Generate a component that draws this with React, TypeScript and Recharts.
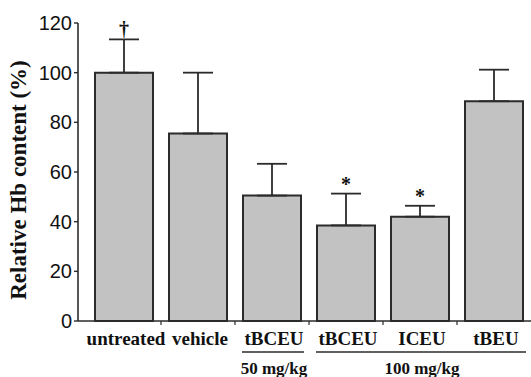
import React from 'react';
import { ComposedChart, Bar, Line, XAxis, YAxis, ErrorBar, LabelList } from 'recharts';

const categories = ['untreated', 'vehicle', 'tBCEU', 'tBCEU', 'ICEU', 'tBEU'];
const values = [100, 75.5, 50.5, 38.5, 42, 88.5];
const errors = [13.4, 24.5, 12.8, 12.8, 4.4, 12.7];
const marks = ['†', '', '', '*', '*', ''];
const yTicks = [0, 20, 40, 60, 80, 100, 120];

const groupLabels = ['50 mg/kg', '100 mg/kg'];
const groupStart = [2, 3];
const groupEnd = [2, 5];

const yTitle = 'Relative Hb content (%)';

const data = categories.map((name, i) => ({
    name,
    value: values[i],
    err: [0, errors[i]],
    top: values[i] + errors[i],
    mark: marks[i],
}));

const STEP = 74;
const ink = '#2b2b2b';
const serif = '"Liberation Serif", "Times New Roman", serif';

const CategoryTick = (props: any) => {
    const { x, y, payload, index } = props;
    const gi = groupStart.indexOf(index);
    return (
        <g>
            {index > 0 && (
                <line x1={x - STEP / 2} x2={x - STEP / 2} y1={y} y2={y + 4} stroke={ink} strokeWidth={1.2} />
            )}
            <text x={x + 2} y={y + 24} textAnchor="middle" fontFamily={serif} fontWeight="bold" fontSize={19} fill="#111">
                {payload.value}
            </text>
            {gi >= 0 && (
                <g>
                    <line
                        x1={x - 30}
                        x2={x + (groupEnd[gi] - groupStart[gi]) * STEP + 32}
                        y1={y + 31}
                        y2={y + 31}
                        stroke={ink}
                        strokeWidth={1.3}
                    />
                    <text
                        x={x + ((groupEnd[gi] - groupStart[gi]) * STEP) / 2 + 2}
                        y={y + 53}
                        textAnchor="middle"
                        fontFamily={serif}
                        fontWeight="bold"
                        fontSize={17}
                        fill="#111"
                    >
                        {groupLabels[gi]}
                    </text>
                </g>
            )}
        </g>
    );
};

const YTitle = (props: any) => {
    const { viewBox } = props;
    const cy = viewBox.y + viewBox.height / 2 + 8;
    return (
        <text
            transform={`translate(26, ${cy}) rotate(-90)`}
            textAnchor="middle"
            fontFamily={serif}
            fontWeight="bold"
            fontSize={23}
            fill="#111"
        >
            {yTitle}
        </text>
    );
};

export default function App() {
    return (
        <div style={{ position: 'absolute', left: 0, top: 0, width: 531, height: 377, background: '#fff' }}>
            <ComposedChart width={531} height={377} data={data} margin={{ top: 23, right: 0, left: 0, bottom: 0 }}>
                <XAxis
                    dataKey="name"
                    height={56}
                    padding={{ left: 9, right: 0 }}
                    tickLine={false}
                    tickSize={0}
                    tickMargin={0}
                    axisLine={{ stroke: ink, strokeWidth: 1.6 }}
                    tick={<CategoryTick />}
                    interval={0}
                />
                <YAxis
                    width={78}
                    domain={[0, 120]}
                    ticks={yTicks}
                    interval={0}
                    tickSize={4}
                    tickMargin={2}
                    tickLine={{ stroke: ink, strokeWidth: 1.4 }}
                    axisLine={{ stroke: ink, strokeWidth: 1.6 }}
                    tick={{ fontFamily: '"Liberation Sans", Arial, sans-serif', fontSize: 20, fill: '#111' }}
                    label={{ content: <YTitle /> } as any}
                />
                <Bar dataKey="value" barSize={58} fill="#c2c2c2" stroke={ink} strokeWidth={2} isAnimationActive={false}>
                    <ErrorBar dataKey="err" width={15} stroke={ink} strokeWidth={1.8} direction="y" />
                </Bar>
                <Line
                    dataKey="top"
                    stroke="none"
                    dot={false}
                    activeDot={false}
                    legendType="none"
                    isAnimationActive={false}
                >
                    <LabelList
                        dataKey="mark"
                        position="top"
                        offset={3}
                        style={{ fontFamily: serif, fontWeight: 'bold', fontSize: 20, fill: '#111' }}
                    />
                </Line>
            </ComposedChart>
        </div>
    );
}
